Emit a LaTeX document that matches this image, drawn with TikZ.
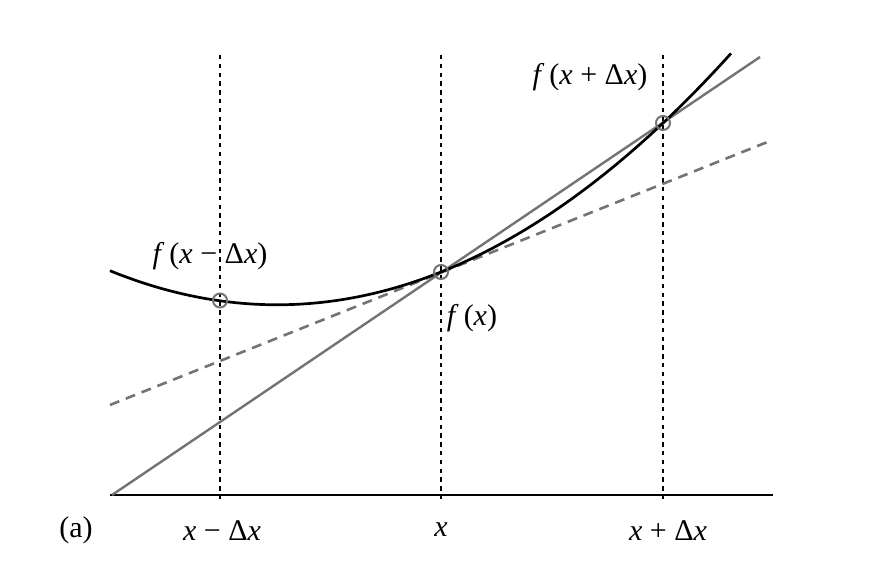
\documentclass[tikz,border=0pt]{standalone}
\usepackage{fontspec}
\setmainfont{Liberation Serif}

\begin{document}
\begin{tikzpicture}[x=0.5pt, y=-0.5pt]
  \tikzstyle{guide}=[black, line width=0.8pt, dash pattern=on 2.2pt off 2.2pt]
  \tikzstyle{marker}=[circle, draw=black!55, line width=1pt, minimum size=7pt, inner sep=0pt]
  \tikzstyle{label}=[font=\fontsize{15}{17}\selectfont, inner sep=1pt]
  \useasboundingbox (0,0) rectangle (893,581);

  \coordinate (A_l) at (110,495);
  \coordinate (A_r) at (773,495);
  \coordinate (S_l) at (112,495);
  \coordinate (S_r) at (760,57);
  \coordinate (T_l) at (110,405);
  \coordinate (T_r) at (770,141);

  % vertical guides
  \foreach \gx in {220,441,663}
    \draw[guide] (\gx,55) -- (\gx,503);

  % axis
  \draw[line width=1.1pt] (A_l) -- (A_r);

  % tangent and secant
  \draw[black!55, line width=1.3pt, dash pattern=on 5pt off 3.5pt] (T_l) -- (T_r);
  \draw[black!55, line width=1.2pt] (S_l) -- (S_r);

  % function
  \draw[black, line width=1.35pt] plot[domain=110:731, samples=100, smooth]
    (\x, {272 + 0.4*(441-\x) - ((\x-441)*0.03493)^2});

  % sample points
  \node[marker] (P_1) at (220,300.5) {};
  \node[marker] (P_2) at (441,272) {};
  \node[marker] (P_3) at (663,123) {};

  \node[label] (L_1) at (210,256) {\textit{f}\,(\textit{x} − Δ\textit{x})};
  \node[label] (L_2) at (472,318) {\textit{f}\,(\textit{x})};
  \node[label] (L_3) at (590,77) {\textit{f}\,(\textit{x} + Δ\textit{x})};

  \node[label] (X_0) at (76,530) {(a)};
  \node[label] (X_1) at (222,531) {\textit{x} − Δ\textit{x}};
  \node[label] (X_2) at (441,530) {\textit{x}};
  \node[label] (X_3) at (668,531) {\textit{x} + Δ\textit{x}};
\end{tikzpicture}
\end{document}
